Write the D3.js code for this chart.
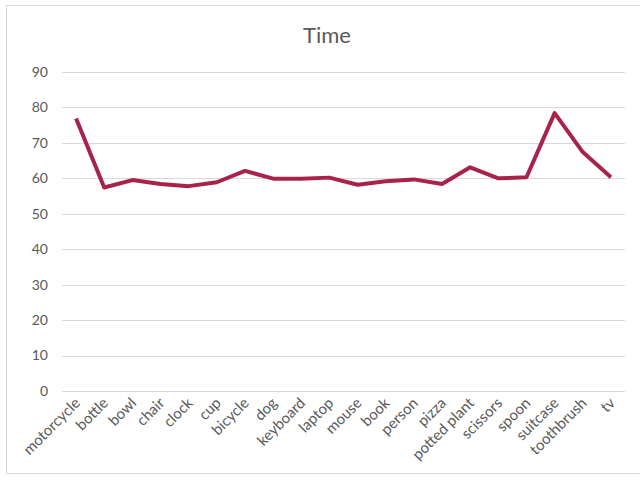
<!DOCTYPE html>
<meta charset="utf-8">
<title>Time</title>
<style>
  body { margin: 0; background: #fff; }
  text { font-family: "Lato", "Open Sans", sans-serif; fill: #595959; }
  .grid line { stroke: #d9d9d9; stroke-width: 1; }
</style>
<body>
<script src="https://cdn.jsdelivr.net/npm/d3@7"></script>
<script>
  var categories = ["motorcycle", "bottle", "bowl", "chair", "clock", "cup", "bicycle", "dog",
    "keyboard", "laptop", "mouse", "book", "person", "pizza", "potted plant", "scissors",
    "spoon", "suitcase", "toothbrush", "tv"];
  var values = [76.9, 57.4, 59.5, 58.4, 57.8, 58.9, 62.1, 59.9, 59.9, 60.2, 58.2, 59.2,
    59.7, 58.4, 63.1, 60.0, 60.3, 78.4, 67.4, 60.3];
  var yTicks = [0, 10, 20, 30, 40, 50, 60, 70, 80, 90];
  var title = "Time";
</script>
<script>
  var W = 640, H = 486;
  var margin = {top: 72, right: 15, bottom: 95, left: 62};

  var svg = d3.select("body").append("svg")
      .attr("width", W)
      .attr("height", H);

  // chart frame
  svg.append("rect")
      .attr("x", 6.5).attr("y", 5.5)
      .attr("width", W).attr("height", 468)
      .attr("fill", "#fff")
      .attr("stroke", "#d9d9d9");

  var x = d3.scaleBand()
      .domain(categories)
      .range([margin.left, 625]);

  var y = d3.scaleLinear()
      .domain([0, 90])
      .range([391, 72]);

  // gridlines
  svg.append("g").attr("class", "grid")
    .selectAll("line")
    .data(yTicks)
    .enter().append("line")
      .attr("x1", margin.left).attr("x2", 625)
      .attr("y1", function(d) { return Math.round(y(d)) + 0.5; })
      .attr("y2", function(d) { return Math.round(y(d)) + 0.5; });

  // y labels
  svg.append("g").selectAll("text")
    .data(yTicks)
    .enter().append("text")
      .attr("x", 48)
      .attr("y", function(d) { return y(d); })
      .attr("dy", "0.35em")
      .attr("text-anchor", "end")
      .attr("font-size", 14)
      .text(function(d) { return d; });

  // x labels, rotated
  svg.append("g").selectAll("text")
    .data(categories)
    .enter().append("text")
      .attr("transform", function(d) {
        return "translate(" + (x(d) + x.bandwidth() / 2 + 5) + ",404) rotate(-45)";
      })
      .attr("text-anchor", "end")
      .attr("font-size", 15)
      .text(function(d) { return d; });

  // line
  var line = d3.line()
      .x(function(d, i) { return x(categories[i]) + x.bandwidth() / 2; })
      .y(function(d) { return y(d); });

  svg.append("path")
      .datum(values)
      .attr("fill", "none")
      .attr("stroke", "#a8234a")
      .attr("stroke-width", 4)
      .attr("stroke-linejoin", "round")
      .attr("d", line);

  svg.append("text")
      .attr("x", 327)
      .attr("y", 43)
      .attr("text-anchor", "middle")
      .attr("font-size", 22)
      .text(title);
</script>
</body>
